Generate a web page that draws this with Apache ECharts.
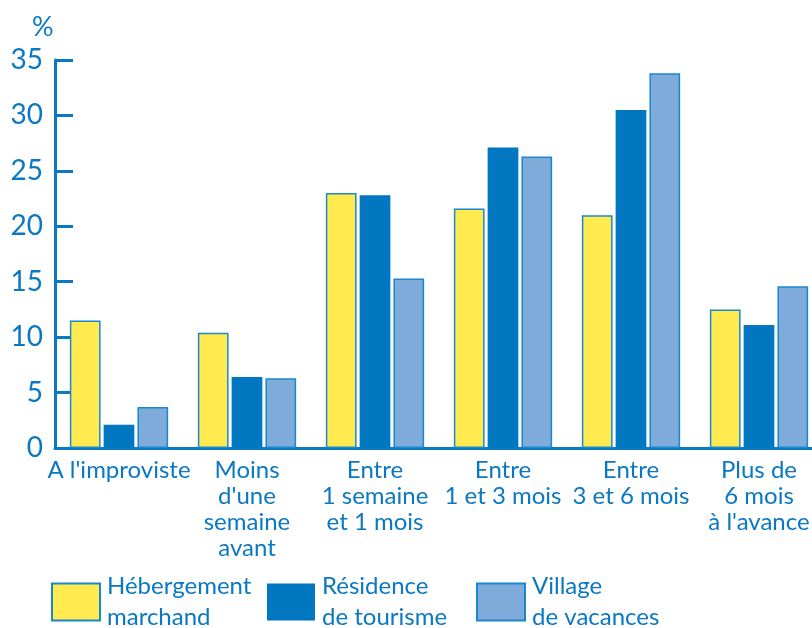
<!DOCTYPE html>
<html><head><meta charset="utf-8">
<script src="https://cdn.jsdelivr.net/npm/echarts@6/dist/echarts.min.js"></script>
<style>html,body{margin:0;padding:0;background:#fff}#c{width:812px;height:628px}</style>
</head><body><div id="c"></div>
<script>
const categories = ["A l'improviste", "Moins\nd'une\nsemaine\navant", "Entre\n1 semaine\net 1 mois", "Entre\n1 et 3 mois", "Entre\n3 et 6 mois", "Plus de\n6 mois\nà l'avance"];
const hebergement = [11.5, 10.4, 23.0, 21.6, 21.0, 12.5];
const residence = [2.1, 6.4, 22.8, 27.1, 30.5, 11.1];
const village = [3.7, 6.3, 15.3, 26.3, 33.8, 14.6];
const yTicks = [0, 5, 10, 15, 20, 25, 30, 35];
const seriesNames = ["Hébergement marchand", "Résidence de tourisme", "Village de vacances"];
const legendLabels = ["Hébergement\nmarchand", "Résidence\nde tourisme", "Village\nde vacances"];

const BLUE = '#0a78c2';
const FONT = 'Lato';
const chart = echarts.init(document.getElementById('c'), null, {renderer: 'canvas'});
const legendPos = [51, 267, 476];
chart.setOption({
  animation: false,
  textStyle: {fontFamily: FONT, color: BLUE},
  title: {text: '%', left: 27, top: 9, textStyle: {fontFamily: FONT, color: BLUE, fontSize: 27, fontWeight: 'normal'}},
  grid: {left: 55, right: -11, top: 60, bottom: 180, outerBoundsMode: 'none', containLabel: false},
  legend: seriesNames.map((n, i) => ({
    data: [n], left: legendPos[i], top: 571, itemWidth: 48, itemHeight: 37, itemGap: 0, padding: 0,
    icon: 'rect',
    formatter: () => legendLabels[i],
    textStyle: {fontFamily: FONT, color: BLUE, fontSize: 24, lineHeight: 31, padding: [0, 0, 0, 2]}
  })),
  xAxis: {
    type: 'category', data: categories,
    axisLine: {lineStyle: {color: BLUE, width: 3}},
    axisTick: {inside: true, length: 9, lineStyle: {color: BLUE, width: 3}},
    axisLabel: {color: BLUE, fontSize: 24, lineHeight: 26, margin: 9, interval: 0, fontFamily: FONT}
  },
  yAxis: {
    type: 'value', min: 0, max: 35, interval: 5,
    splitLine: {show: false},
    axisLine: {show: true, lineStyle: {color: BLUE, width: 3}},
    axisTick: {show: true, inside: true, length: 18, lineStyle: {color: BLUE, width: 3}},
    axisLabel: {color: BLUE, fontSize: 28, margin: 12, fontFamily: FONT,
      formatter: v => yTicks.includes(v) ? String(v) : ''}
  },
  series: [
    {name: seriesNames[0], type: 'bar', data: hebergement, barWidth: '24%', barGap: '10%',
     itemStyle: {color: '#ffeb50', borderColor: '#1a88cf', borderWidth: 1.5}},
    {name: seriesNames[1], type: 'bar', data: residence, barWidth: '24%', barGap: '10%',
     itemStyle: {color: '#0077c0'}},
    {name: seriesNames[2], type: 'bar', data: village, barWidth: '24%', barGap: '10%',
     itemStyle: {color: '#7eabda', borderColor: '#1a88cf', borderWidth: 1.5}}
  ]
});
</script></body></html>
